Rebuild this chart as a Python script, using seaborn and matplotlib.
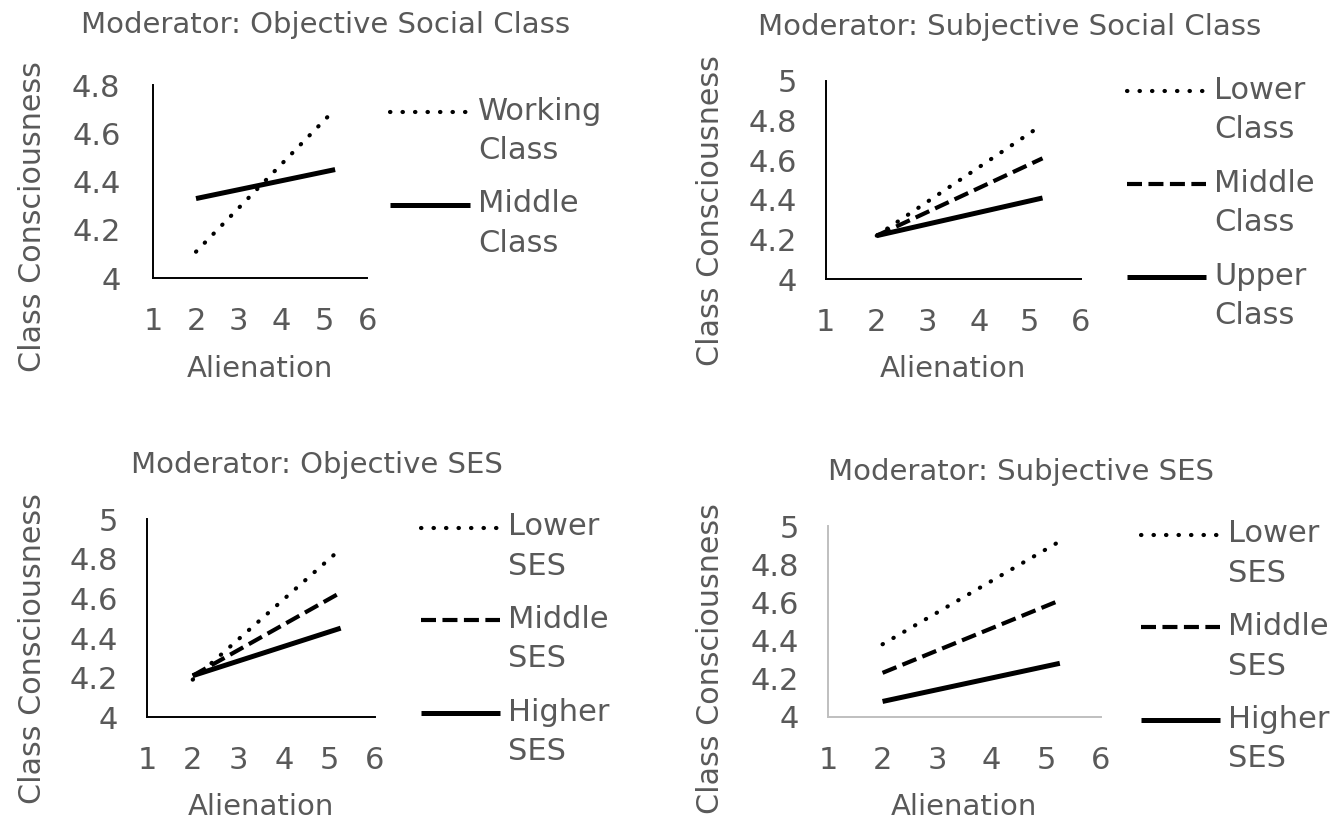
import matplotlib
matplotlib.use("Agg")
import matplotlib.pyplot as plt
import numpy as np
import pandas as pd
import seaborn as sns
from matplotlib.legend_handler import HandlerLine2D
from matplotlib.ticker import FormatStrFormatter

# simple slopes, values
ALIENATION = [2, 5.25]

OSC_LABELS = ["Working\nClass", "Middle\nClass"]
OSC_WORKING = [4.11, 4.70]
OSC_MIDDLE = [4.33, 4.45]

SSC_LABELS = ["Lower\nClass", "Middle\nClass", "Upper\nClass"]
SSC_LOWER = [4.22, 4.78]
SSC_MIDDLE = [4.22, 4.61]
SSC_UPPER = [4.22, 4.41]

OSES_LABELS = ["Lower\nSES", "Middle\nSES", "Higher\nSES"]
OSES_LOWER = [4.19, 4.85]
OSES_MIDDLE = [4.21, 4.63]
OSES_HIGHER = [4.21, 4.45]

SSES_LABELS = ["Lower\nSES", "Middle\nSES", "Higher\nSES"]
SSES_LOWER = [4.38, 4.92]
SSES_MIDDLE = [4.23, 4.61]
SSES_HIGHER = [4.08, 4.28]

GREY = "#595959"
STYLES = {
    "dot": dict(lw=3.0, linestyle=(0, (0.1, 2.9)), dash_capstyle="round"),
    "dash": dict(lw=3.0, linestyle=(0, (3.6, 1.55))),
    "solid": dict(lw=3.6, linestyle="-", solid_capstyle="butt"),
}

sns.set_style("white")
plt.rcParams["font.family"] = ["DejaVu Sans"]


class RaisedLine(HandlerLine2D):
    # put the handle next to the first line of a two-line label
    def __init__(self, shift, **kw):
        super().__init__(**kw)
        self.shift = shift

    def create_artists(self, legend, orig_handle, xdescent, ydescent, width, height, fontsize, trans):
        return super().create_artists(legend, orig_handle, xdescent, ydescent - 2 * self.shift,
                                      width, height, fontsize, trans)


def panel(fig, rect, title, title_xy, labels, series, styles, ymax, ylab_xy, xlab_y,
          ytickpad, leg_xy, spine_color="black"):
    ax = fig.add_axes(rect)
    for label, ys, st in zip(labels, series, styles):
        df = pd.DataFrame({"Alienation": ALIENATION, "Class Consciousness": ys})
        sns.lineplot(data=df, x="Alienation", y="Class Consciousness", ax=ax, color="black",
                     label=label, **STYLES[st])
    ax.set_xlim(1, 6)
    ax.set_ylim(4, ymax)
    ax.set_xticks(range(1, 7))
    ax.set_yticks(np.arange(4, ymax + 0.01, 0.2))
    ax.yaxis.set_major_formatter(FormatStrFormatter("%g"))
    ax.tick_params(axis="both", length=0, labelsize=22, labelcolor=GREY)
    ax.tick_params(axis="x", pad=21)
    ax.tick_params(axis="y", pad=ytickpad)
    for side in ["top", "right"]:
        ax.spines[side].set_visible(False)
    for side in ["left", "bottom"]:
        ax.spines[side].set_color(spine_color)
        ax.spines[side].set_linewidth(1.4)
    ax.set_xlabel("Alienation", fontsize=21, color=GREY)
    ax.set_ylabel("Class Consciousness", fontsize=21.7, color=GREY)
    ax.xaxis.set_label_coords(0.5, xlab_y)
    ax.yaxis.set_label_coords(*ylab_xy)
    ax.set_title(title, fontsize=21, color=GREY, x=title_xy[0], y=title_xy[1], ha="center", pad=0)
    handles, labs = ax.get_legend_handles_labels()
    leg = ax.legend(handles, labs, loc="upper left", bbox_to_anchor=leg_xy, frameon=False,
                    fontsize=22, labelcolor=GREY, borderpad=0, borderaxespad=0,
                    handlelength=2.6, handletextpad=0.27, labelspacing=0.8,
                    handler_map={h: RaisedLine(14.2) for h in handles})
    for t in leg.get_texts():
        t.set_linespacing(1.45)
    return ax


fig = plt.figure(figsize=(13.31, 8.19), dpi=100)

panel(fig, [0.1151, 0.6602, 0.1608, 0.2360], "Moderator: Objective Social Class", (0.807, 1.269),
      OSC_LABELS, [OSC_WORKING, OSC_MIDDLE], ["dot", "solid"], 4.8,
      (-0.496, 0.321), -0.399, 23.5, (1.107, 0.94))

panel(fig, [0.6204, 0.659, 0.1916, 0.2421], "Moderator: Subjective Social Class", (0.721, 1.232),
      SSC_LABELS, [SSC_LOWER, SSC_MIDDLE, SSC_UPPER], ["dot", "dash", "solid"], 5.0,
      (-0.395, 0.345), -0.382, 21, (1.18, 1.025))

panel(fig, [0.1106, 0.1242, 0.1710, 0.2418], "Moderator: Objective SES", (0.746, 1.232),
      OSES_LABELS, [OSES_LOWER, OSES_MIDDLE, OSES_HIGHER], ["dot", "dash", "solid"], 5.0,
      (-0.44, 0.348), -0.382, 21, (1.202, 1.035))

panel(fig, [0.6221, 0.1249, 0.2049, 0.2328], "Moderator: Subjective SES", (0.706, 1.241),
      SSES_LABELS, [SSES_LOWER, SSES_MIDDLE, SSES_HIGHER], ["dot", "dash", "solid"], 5.0,
      (-0.378, 0.306), -0.40, 21, (1.146, 1.035), spine_color="#bfbfbf")

fig.savefig("out.png", dpi=100)
